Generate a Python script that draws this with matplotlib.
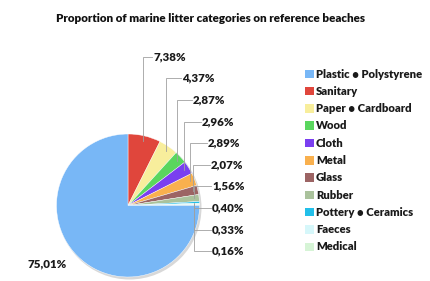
import matplotlib
matplotlib.use("Agg")
import matplotlib.pyplot as plt
import numpy as np

categories = ["Plastic • Polystyrene", "Sanitary", "Paper • Cardboard", "Wood", "Cloth",
              "Metal", "Glass", "Rubber", "Pottery • Ceramics", "Faeces", "Medical"]
values = [75.01, 7.38, 4.37, 2.87, 2.96, 2.89, 2.07, 1.56, 0.40, 0.33, 0.16]
colors = ["#78b7f6", "#e0463c", "#f8ee9c", "#5ad65e", "#7a3ff0", "#f9b04e",
          "#9c6464", "#aac29c", "#22bfe9", "#d6f7fa", "#d6f4d6"]

FONT = "Lato"
W, H = 430, 281
fig = plt.figure(figsize=(W / 100, H / 100), dpi=100)
ax = fig.add_axes([0, 0, 1, 1])
ax.set_xlim(0, W)
ax.set_ylim(H, 0)
ax.axis("off")

cx, cy, R = 128, 205.5, 71.5

order = list(range(1, len(values))) + [0]
pie_vals = [values[i] for i in order]
pie_cols = [colors[i] for i in order]

# soft shadow under the pie
ax.add_patch(plt.Circle((cx + 1.5, cy + 2), R + 0.5, facecolor="#d8d8d8",
                        edgecolor="none", zorder=0))
wedges, _ = ax.pie(pie_vals, colors=pie_cols, startangle=-90, counterclock=True,
                   center=(cx, cy), radius=R, frame=False,
                   wedgeprops=dict(linewidth=0.3, edgecolor="white"))
ax.set_xlim(0, W)
ax.set_ylim(H, 0)
ax.set_aspect("auto")

label_x = [153, 182, 193, 202, 208, 211, 212, 212, 212, 212]
label_y = [57, 78, 100, 122, 143, 165, 186, 208, 230, 251]

LFS = 8.3
total = sum(pie_vals)
cum = 0.0
for k, i in enumerate(order):
    v = values[i]
    mid = (cum + v / 2) / total * 360.0
    cum += v
    if i == 0:
        continue
    a = np.deg2rad(mid)
    ex = cx + 0.93 * R * np.sin(a)
    ey = cy - 0.93 * R * np.cos(a)
    lx, ly = label_x[k], label_y[k]
    ax.plot([ex, ex, lx - 1], [ey, ly, ly], color="#a0a0a0", lw=0.6,
            solid_joinstyle="miter", clip_on=False)
    ax.text(lx, ly, f"{v:.2f}".replace(".", ",") + "%", fontsize=LFS,
            fontweight="heavy", family=FONT, va="center", ha="left", color="#1a1a1a")

ax.text(27, 264, f"{values[0]:.2f}".replace(".", ",") + "%", fontsize=LFS,
        fontweight="heavy", family=FONT, va="center", ha="left", color="#1a1a1a")

ax.text(211, 18, "Proportion of marine litter categories on reference beaches",
        fontsize=8.4, fontweight="heavy", family=FONT, ha="center", va="center",
        color="#111111")

leg_y0, leg_dy = 74, 17.3
for j, (name, col) in enumerate(zip(categories, colors)):
    y = leg_y0 + j * leg_dy
    ax.add_patch(plt.Rectangle((305, y - 4.5), 8.5, 8.5, facecolor=col,
                               edgecolor="none", clip_on=False))
    ax.text(316, y, name, fontsize=8.1, fontweight="heavy", family=FONT,
            va="center", ha="left", color="#1a1a1a")

fig.savefig("out.png", dpi=100)
